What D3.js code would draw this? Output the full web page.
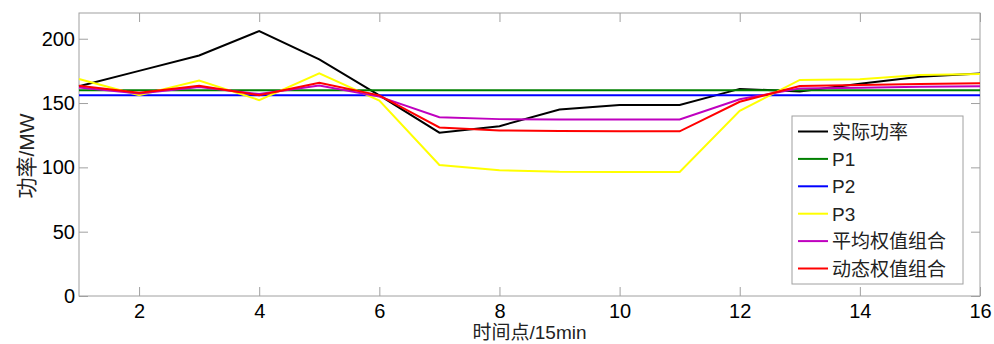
<!DOCTYPE html>
<html><head><meta charset="utf-8">
<script src="https://cdn.jsdelivr.net/npm/d3@7"></script>
<style>
html,body{margin:0;padding:0;background:#fff;}
svg{display:block;}
text{font-family:"Liberation Sans",Arial,"Noto Sans CJK SC",sans-serif;}
</style></head>
<body>
<svg id="chart" width="994" height="344"></svg>
<script>
const timePoints = [1,2,3,4,5,6,7,8,9,10,11,12,13,14,15,16];
const actual   = [163,175,187,206,184,156,127,132,145,148.5,148.5,161,159,165,170.5,173];
const p1       = [160,160,160,160,160,160,160,160,160,160,160,160,160,160,160,160];
const p2       = [156,156,156,156,156,156,156,156,156,156,156,156,156,156,156,156];
const p3       = [168.7,156,167.5,152.3,173,152,101.8,97.7,96.5,96.4,96.4,144,168,168.5,171.8,172.5];
const avgComb  = [162,157.5,162.5,157,163.7,155,139,137.5,137.3,137.2,137.2,153,161.4,161.8,162.7,163];
const dynComb  = [163.5,158,163.5,156,165.8,156,131,128.7,128.2,128,128,151,163.3,164,164.8,165.3];
const seriesNames = ["实际功率","P1","P2","P3","平均权值组合","动态权值组合"];
const seriesColors = ["#000000","#008000","#0000ff","#ffff00","#bf00bf","#ff0000"];
const xTicks = [2,4,6,8,10,12,14,16];
const yTicks = [0,50,100,150,200];
const xLabel = "时间点/15min";
const yLabel = "功率/MW";

const allSeries = [actual,p1,p2,p3,avgComb,dynComb];
const svg = d3.select("#chart");
const L=79, R=980, T=13, B=296;
const x = d3.scaleLinear().domain([1,16]).range([L,R]);
const y = d3.scaleLinear().domain([0,220]).range([B,T]);
const axisColor = "#a0a0a0";

// frame
svg.append("rect").attr("x",L).attr("y",T).attr("width",R-L).attr("height",B-T)
  .attr("fill","none").attr("stroke",axisColor).attr("stroke-width",1);

// axes
const gx = svg.append("g").attr("transform",`translate(0,${B})`)
  .call(d3.axisBottom(x).tickValues(xTicks).tickSizeInner(-9).tickSizeOuter(0).tickPadding(8));
const gxt = svg.append("g").attr("transform",`translate(0,${T})`)
  .call(d3.axisTop(x).tickValues(xTicks).tickSizeInner(-9).tickSizeOuter(0).tickFormat(""));
const gy = svg.append("g").attr("transform",`translate(${L},0)`)
  .call(d3.axisLeft(y).tickValues(yTicks).tickSizeInner(-9).tickSizeOuter(0).tickPadding(4));
const gyr = svg.append("g").attr("transform",`translate(${R},0)`)
  .call(d3.axisRight(y).tickValues(yTicks).tickSizeInner(-9).tickSizeOuter(0).tickFormat(""));
[gx,gxt,gy,gyr].forEach(g=>{
  g.select(".domain").remove();
  g.selectAll(".tick line").attr("stroke",axisColor);
  g.selectAll("text").attr("font-size",20).attr("fill","#000")
   .attr("font-family","'Liberation Sans',Arial,sans-serif");
});

// lines
const line = d3.line().x((d,i)=>x(timePoints[i])).y(d=>y(d));
allSeries.forEach((s,k)=>{
  svg.append("path").datum(s).attr("d",line).attr("fill","none")
    .attr("stroke",seriesColors[k]).attr("stroke-width",2).attr("stroke-linejoin","miter");
});

// axis labels
svg.append("text").attr("x",(L+R)/2).attr("y",339).attr("text-anchor","middle")
  .attr("font-size",19).attr("fill","#222").text(xLabel);
svg.append("text").attr("transform",`translate(34,156) rotate(-90)`)
  .attr("text-anchor","middle").attr("font-size",21).attr("fill","#222").text(yLabel);

// legend
const lg = svg.append("g");
lg.append("rect").attr("x",792).attr("y",116).attr("width",171).attr("height",168)
  .attr("fill","#fff").attr("stroke",axisColor).attr("stroke-width",1);
seriesNames.forEach((n,i)=>{
  const yy = 131.5 + i*27.4;
  lg.append("line").attr("x1",798).attr("x2",828).attr("y1",yy).attr("y2",yy)
    .attr("stroke",seriesColors[i]).attr("stroke-width",2);
  lg.append("text").attr("x",832).attr("y",yy+7).attr("font-size",19).attr("fill","#222").text(n);
});
</script>
</body></html>
